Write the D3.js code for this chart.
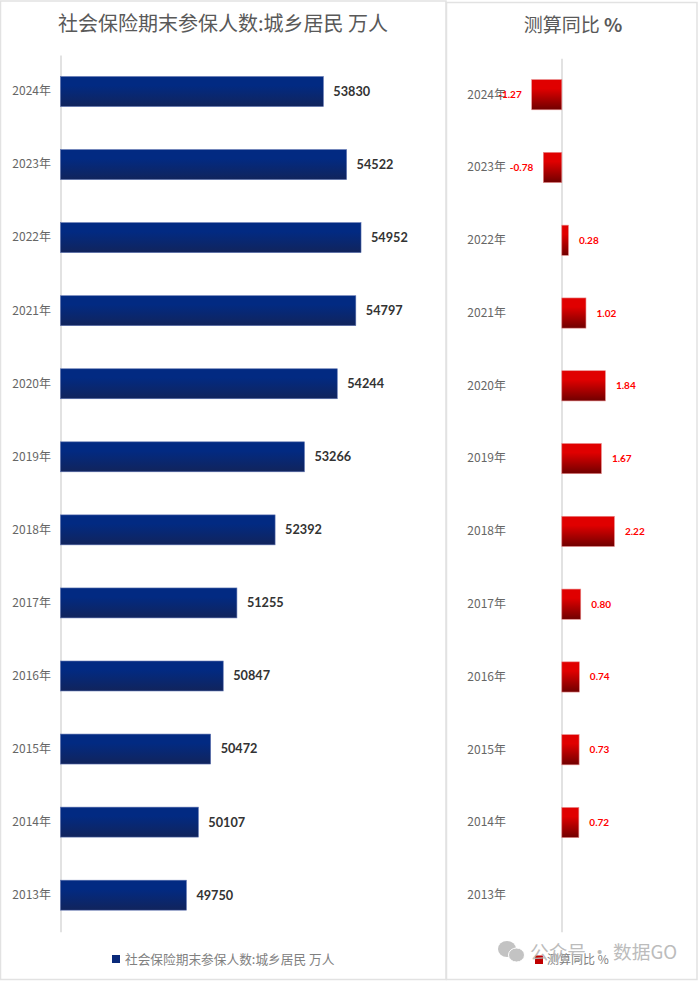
<!DOCTYPE html>
<html>
<head>
<meta charset="utf-8">
<script src="https://cdn.jsdelivr.net/npm/d3@7"></script>
<style>
  html, body { margin: 0; padding: 0; background: #fff; }
  svg { display: block; }
</style>
</head>
<body>
<svg id="chart"></svg>
<script>
const years = ['2024年', '2023年', '2022年', '2021年', '2020年', '2019年', '2018年', '2017年', '2016年', '2015年', '2014年', '2013年'];
const insured = [53830, 54522, 54952, 54797, 54244, 53266, 52392, 51255, 50847, 50472, 50107, 49750];
const yoy = ['-1.27', '-0.78', '0.28', '1.02', '1.84', '1.67', '2.22', '0.80', '0.74', '0.73', '0.72', null];
const leftTitle = '社会保险期末参保人数:城乡居民 万人';
const rightTitle = '测算同比 ';

const cjk = '"Noto Sans CJK SC", sans-serif';
const svg = d3.select('#chart').attr('width', 700).attr('height', 981);

const defs = svg.append('defs');
function grad(id, top, bottom) {
  const g = defs.append('linearGradient').attr('id', id).attr('x1', 0).attr('y1', 0).attr('x2', 0).attr('y2', 1);
  g.append('stop').attr('offset', '0%').attr('stop-color', top);
  g.append('stop').attr('offset', '30%').attr('stop-color', top);
  g.append('stop').attr('offset', '100%').attr('stop-color', bottom);
}
grad('blueGrad', '#022a82', '#11245c');
grad('redGrad', '#e00000', '#700000');

// panel frames
svg.append('rect').attr('x', 0.5).attr('y', 1).attr('width', 445.5).attr('height', 978.5)
  .attr('fill', '#fff').attr('stroke', '#e2e2e2').attr('stroke-width', 1.5);
svg.append('rect').attr('x', 446.5).attr('y', 2.5).attr('width', 250.5).attr('height', 977)
  .attr('fill', '#fff').attr('stroke', '#e2e2e2').attr('stroke-width', 1.5);

const yLeft = d3.scaleBand().domain(years).range([55, 931.7]).paddingInner(0.59).paddingOuter(0.295);
const yRight = d3.scaleBand().domain(years).range([58.3, 931.7]).paddingInner(0.585).paddingOuter(0.2925);

function yearAxis(y, x0, tickX) {
  const g = svg.append('g').attr('transform', `translate(${x0},0)`)
    .call(d3.axisLeft(y).tickSize(0).tickPadding(x0 - tickX));
  g.select('.domain').attr('stroke', '#d9d9d9').attr('stroke-width', 1.5);
  g.selectAll('text').attr('font-family', cjk).attr('font-size', 12).attr('fill', '#666');
}

// left panel
const xLeft = d3.scaleLinear().domain([46000, 56000]).range([60.5, 396.2]);
svg.append('text').attr('x', 223).attr('y', 31).attr('text-anchor', 'middle')
  .attr('font-family', cjk).attr('font-size', 20).attr('fill', '#595959').text(leftTitle);
yearAxis(yLeft, 60.5, 51);
svg.append('g').selectAll('rect').data(insured).join('rect')
  .attr('x', xLeft(46000))
  .attr('y', (d, i) => yLeft(years[i]))
  .attr('width', d => xLeft(d) - xLeft(46000))
  .attr('height', yLeft.bandwidth())
  .attr('fill', 'url(#blueGrad)')
  .attr('stroke', '#5a6fae').attr('stroke-width', 0.6);
svg.append('g').selectAll('text').data(insured).join('text')
  .attr('x', d => xLeft(d) + 10)
  .attr('y', (d, i) => yLeft(years[i]) + yLeft.bandwidth() / 2)
  .attr('dy', '0.35em')
  .attr('font-family', 'Lato, sans-serif').attr('font-weight', 700).attr('font-size', 12.7)
  .attr('fill', '#333').text(d => d);

// right panel
const xRight = d3.scaleLinear().domain([0, 3]).range([561.8, 632.9]);
const rt = svg.append('text').attr('x', 573).attr('y', 32).attr('text-anchor', 'middle')
  .attr('font-family', cjk).attr('font-size', 19).attr('fill', '#595959').text(rightTitle);
rt.append('tspan').attr('font-weight', 700).text('%');
yearAxis(yRight, 561.5, 506);
const rows = yoy.map((v, i) => ({ year: years[i], v })).filter(d => d.v !== null);
svg.append('g').selectAll('rect').data(rows).join('rect')
  .attr('x', d => Math.min(xRight(+d.v), xRight(0)))
  .attr('y', d => yRight(d.year))
  .attr('width', d => Math.abs(xRight(+d.v) - xRight(0)))
  .attr('height', yRight.bandwidth())
  .attr('fill', 'url(#redGrad)')
  .attr('stroke', '#e88a8a').attr('stroke-width', 0.6);
svg.append('g').selectAll('text').data(rows).join('text')
  .attr('x', d => +d.v < 0 ? xRight(+d.v) - 10 : xRight(+d.v) + 10.5)
  .attr('y', d => yRight(d.year) + yRight.bandwidth() / 2)
  .attr('dy', '0.35em')
  .attr('text-anchor', d => +d.v < 0 ? 'end' : 'start')
  .attr('font-family', 'Lato, sans-serif').attr('font-weight', 700).attr('font-size', 10)
  .attr('fill', '#ff0000').text(d => d.v);

// legends
svg.append('rect').attr('x', 112).attr('y', 955).attr('width', 8).attr('height', 8).attr('fill', '#0a2a7a');
svg.append('text').attr('x', 125).attr('y', 963.5).attr('font-family', cjk).attr('font-size', 12.7)
  .attr('fill', '#808080').text(leftTitle);
svg.append('rect').attr('x', 535).attr('y', 955.5).attr('width', 8).attr('height', 8.5).attr('fill', '#c00000');
svg.append('text').attr('x', 547).attr('y', 964).attr('font-family', cjk).attr('font-size', 12)
  .attr('fill', '#808080').text(rightTitle + '%');

// watermark
const wm = svg.append('g').attr('opacity', 0.9);
wm.append('ellipse').attr('cx', 507).attr('cy', 949).attr('rx', 9).attr('ry', 8).attr('fill', '#bdbdbd');
wm.append('ellipse').attr('cx', 516.5).attr('cy', 955).attr('rx', 8).attr('ry', 7)
  .attr('fill', '#bdbdbd').attr('stroke', '#fff').attr('stroke-width', 1);
wm.append('text').attr('x', 530).attr('y', 958.5).attr('font-family', cjk).attr('font-size', 18.7)
  .attr('fill', '#b5b5b5').text('公众号 · 数据GO');
</script>
</body>
</html>
